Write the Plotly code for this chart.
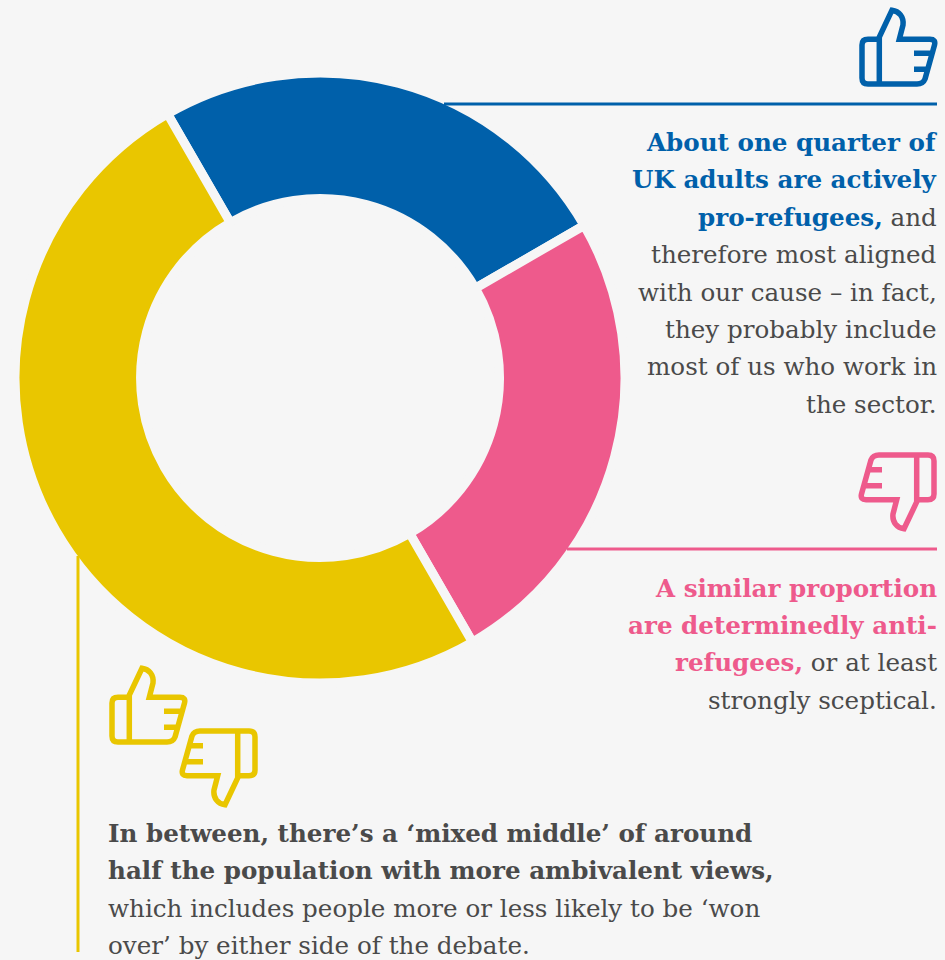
import plotly.graph_objects as go

W, H = 945, 960

# Audience segments and their approximate share of UK adults
segments = ["Pro-refugees", "Anti-refugees", "Mixed middle"]
shares = [25, 25, 50]
BLUE, PINK, YELLOW = "#0060aa", "#ee5a8c", "#e9c600"
segment_colors = [BLUE, PINK, YELLOW]
BG = "#f6f6f6"
INK = "#4a4a4a"
FONT = "DejaVu Serif"
FONT_SIZE = 24.6


def b(text, color):
    return f'<b><span style="color:{color}">{text}</span></b>'


right_lines = [
    (b("About one quarter of", BLUE), 142),
    (b("UK adults are actively", BLUE), 179),
    (b("pro-refugees,", BLUE) + " and", 217),
    ("therefore most aligned", 254),
    ("with our cause – in fact,", 292),
    ("they probably include", 329),
    ("most of us who work in", 366),
    ("the sector.", 404),
    (b("A similar proportion", PINK), 588),
    (b("are determinedly anti-", PINK), 625),
    (b("refugees,", PINK) + " or at least", 662),
    ("strongly sceptical.", 700),
]
left_lines = [
    (b("In between, there’s a ‘mixed middle’ of around", INK), 833),
    (b("half the population with more ambivalent views,", INK), 870),
    ("which includes people more or less likely to be ‘won", 908),
    ("over’ by either side of the debate.", 945),
]

# Thumbs-up outline, in local pixels from the icon's top-left corner
THUMB = [
    ("M", 20.3, 31.3), ("L", 9, 31.3), ("Q", 3, 31.3, 3, 37), ("L", 3, 70), ("Q", 3, 76, 9, 76),
    ("L", 58, 76), ("Q", 64, 76, 66, 71), ("L", 75.5, 37), ("Q", 77, 31.3, 71, 31.3), ("L", 40.3, 31.3),
    ("L", 44, 17), ("C", 45, 9, 40, 3, 33, 2.2), ("L", 20.3, 29), ("L", 20.3, 76),
    ("M", 55, 45.3), ("L", 73, 45.3), ("M", 55, 61.3), ("L", 69, 61.3),
]


def px(x, y):
    return f"{x / W:.5f},{1 - y / H:.5f}"


def icon_path(left, top, flip=False, w=78, h=78):
    parts = []
    for cmd in THUMB:
        pts = cmd[1:]
        out = []
        for i in range(0, len(pts), 2):
            x, y = pts[i], pts[i + 1]
            if flip:
                x, y = w - x, h - y
            out.append(px(left + x, top + y))
        parts.append(cmd[0] + " ".join(out))
    return " ".join(parts)


def icon(left, top, color, flip=False):
    return dict(type="path", xref="paper", yref="paper", path=icon_path(left, top, flip),
                line=dict(color=color, width=5.5), fillcolor="rgba(0,0,0,0)")


def rule(x0, y0, x1, y1, color):
    return dict(type="line", xref="paper", yref="paper", x0=x0 / W, x1=x1 / W,
                y0=1 - y0 / H, y1=1 - y1 / H, line=dict(color=color, width=3))


# Ring geometry: the separator stroke eats half its width from each edge
CX, CY, R_OUT, R_IN, GAP = 320, 378, 300.5, 184, 9
R = R_OUT + GAP / 2

fig = go.Figure(go.Pie(
    labels=segments,
    values=shares,
    sort=False,
    direction="clockwise",
    rotation=330,
    hole=(R_IN - GAP / 2) / R,
    textinfo="none",
    showlegend=False,
    marker=dict(colors=segment_colors, line=dict(color=BG, width=GAP)),
    domain=dict(x=[(CX - R) / W, (CX + R) / W], y=[1 - (CY + R) / H, 1 - (CY - R) / H]),
))

annotations = []
for text, y in right_lines:
    annotations.append(dict(x=939 / W, y=1 - y / H, xref="paper", yref="paper", text=text,
                            xanchor="right", yanchor="middle", align="right", showarrow=False,
                            font=dict(family=FONT, size=FONT_SIZE, color=INK)))
for text, y in left_lines:
    annotations.append(dict(x=106 / W, y=1 - y / H, xref="paper", yref="paper", text=text,
                            xanchor="left", yanchor="middle", align="left", showarrow=False,
                            font=dict(family=FONT, size=FONT_SIZE, color=INK)))

fig.update_layout(
    width=W, height=H,
    margin=dict(l=0, r=0, t=0, b=0),
    paper_bgcolor=BG, plot_bgcolor=BG,
    annotations=annotations,
    shapes=[
        rule(444, 104, 937, 104, BLUE),
        rule(567, 549, 937, 549, PINK),
        rule(78, 556, 78, 952, YELLOW),
        icon(859, 8, BLUE),
        icon(859, 453, PINK, flip=True),
        icon(109, 666, YELLOW),
        icon(180, 729, YELLOW, flip=True),
    ],
)
fig.write_html("out.html")
